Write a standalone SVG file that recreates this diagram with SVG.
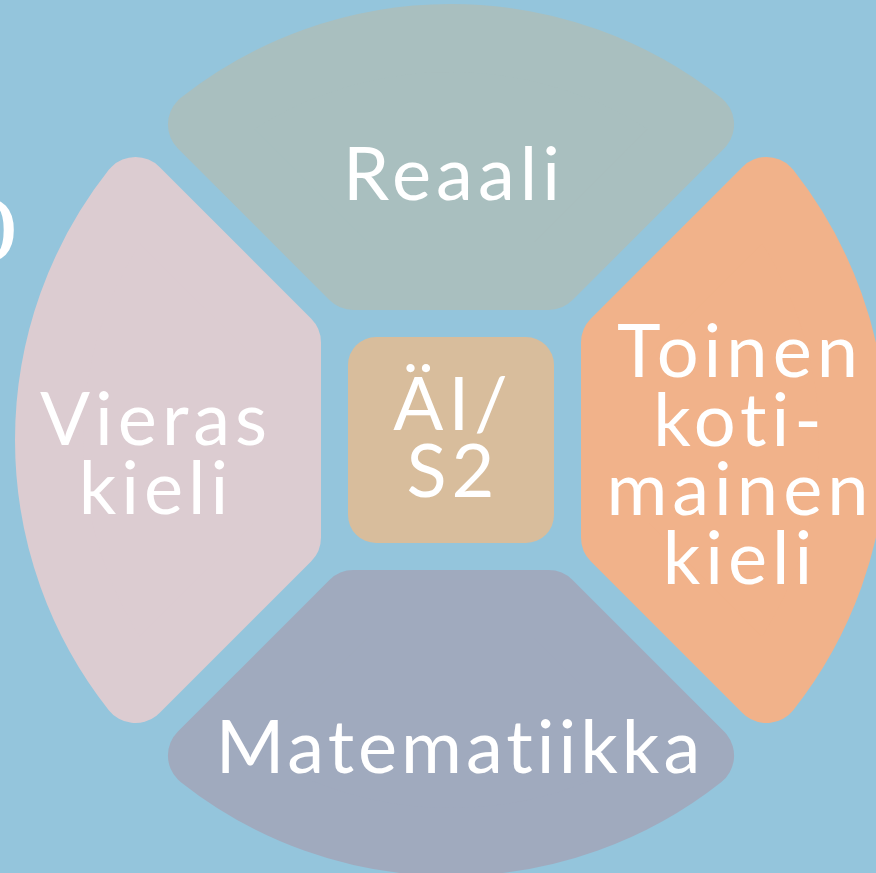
<svg xmlns="http://www.w3.org/2000/svg" width="876" height="873" viewBox="0 0 876 873">
<style>
.seg{stroke-width:68;stroke-linejoin:round}
.lbl{font-family:Lato,"Noto Sans","Liberation Sans",sans-serif;font-weight:400;fill:#ffffff;text-anchor:middle;font-size:74px;letter-spacing:5px}
</style>
<rect x="0" y="0" width="876" height="873" fill="#94C5DC"/>
<text x="-53" y="262" font-family="'Liberation Serif',serif" font-size="98" fill="#ffffff">O</text>
<g id="reaali">
<path class="seg" fill="#A9BFBF" stroke="#A9BFBF" d="M353.47 276 L201.93 124.46 A402 402 0 0 1 700.07 124.46 L548.53 276 Z"/>
<text class="lbl" x="454" y="200">Reaali</text>
</g>
<g id="vieras-kieli">
<path class="seg" fill="#DCCCD1" stroke="#DCCCD1" d="M287 342.47 L135.46 190.93 A402 402 0 0 0 135.46 689.07 L287 537.53 Z"/>
<text class="lbl" x="156" y="445">Vieras</text>
<text class="lbl" x="156" y="514">kieli</text>
</g>
<g id="toinen-kotimainen-kieli">
<path class="seg" fill="#F1B28A" stroke="#F1B28A" d="M615 342.47 L766.54 190.93 A402 402 0 0 1 766.54 689.07 L615 537.53 Z"/>
<text class="lbl" x="740" y="377">Toinen</text>
<text class="lbl" x="740" y="446">koti-</text>
<text class="lbl" x="740" y="515">mainen</text>
<text class="lbl" x="740" y="584">kieli</text>
</g>
<g id="matematiikka">
<path class="seg" fill="#A0AABE" stroke="#A0AABE" d="M353.47 604 L201.93 755.54 A402 402 0 0 0 700.07 755.54 L548.53 604 Z"/>
<text class="lbl" x="460" y="773" style="letter-spacing:4px">Matematiikka</text>
</g>
<g id="ai-s2">
<rect x="348" y="337" width="206" height="206" rx="28" fill="#D8BD9C"/>
<text class="lbl" x="453" y="430">ÄI/</text>
<text class="lbl" x="453" y="497">S2</text>
</g>
<g id="connectors"/>
</svg>
